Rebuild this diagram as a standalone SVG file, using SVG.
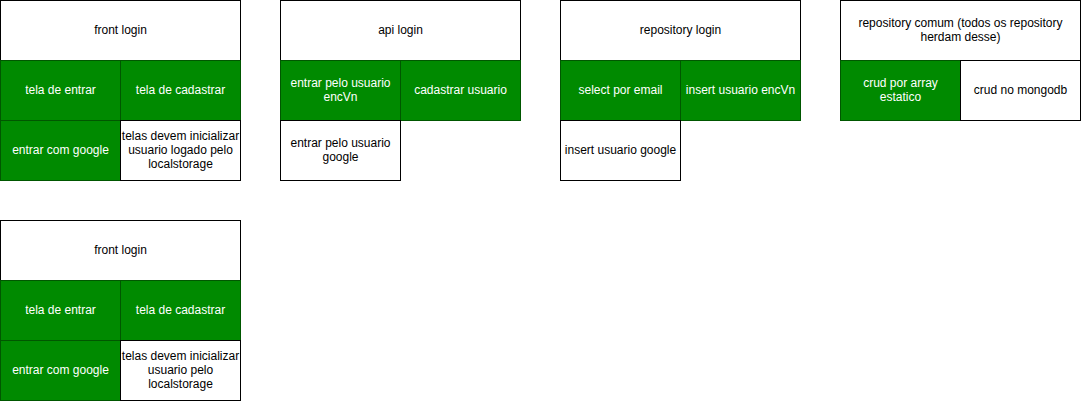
<svg xmlns="http://www.w3.org/2000/svg" width="1082" height="401" viewBox="0 0 1082 401">
<style>
.w{fill:#ffffff;stroke:#000000;stroke-width:1}
.g{fill:#008a00;stroke:#005700;stroke-width:1}
text{font-family:"Liberation Sans",Arial,Helvetica,sans-serif;font-size:12px;text-anchor:middle}
.tw{fill:#ffffff}
.tb{fill:#000000}
</style>
<rect width="1082" height="401" fill="#ffffff"/>
<g id="front-login">
<rect class="w" x="0.5" y="0.5" width="240" height="60"/>
<text class="tb" x="120.5" y="33.5">front login</text>
</g>
<g id="tela-entrar">
<rect class="g" x="0.5" y="60.5" width="120" height="60"/>
<text class="tw" x="60.5" y="93.5">tela de entrar</text>
</g>
<g id="tela-cadastrar">
<rect class="g" x="120.5" y="60.5" width="120" height="60"/>
<text class="tw" x="180.5" y="93.5">tela de cadastrar</text>
</g>
<g id="entrar-google">
<rect class="g" x="0.5" y="120.5" width="120" height="60"/>
<text class="tw" x="60.5" y="153.5">entrar com google</text>
</g>
<g id="telas-inicializar">
<rect class="w" x="120.5" y="120.5" width="120" height="60"/>
<text class="tb" x="180.5" y="139.5">telas devem inicializar</text>
<text class="tb" x="180.5" y="153.5">usuario logado pelo</text>
<text class="tb" x="180.5" y="167.5">localstorage</text>
</g>
<g id="api-login">
<rect class="w" x="280.5" y="0.5" width="240" height="60"/>
<text class="tb" x="400.5" y="33.5">api login</text>
</g>
<g id="api-encvn">
<rect class="g" x="280.5" y="60.5" width="120" height="60"/>
<text class="tw" x="340.5" y="86.5">entrar pelo usuario</text>
<text class="tw" x="340.5" y="100.5">encVn</text>
</g>
<g id="api-cadastrar">
<rect class="g" x="400.5" y="60.5" width="120" height="60"/>
<text class="tw" x="460.5" y="93.5">cadastrar usuario</text>
</g>
<g id="api-google">
<rect class="w" x="280.5" y="120.5" width="120" height="60"/>
<text class="tb" x="340.5" y="146.5">entrar pelo usuario</text>
<text class="tb" x="340.5" y="160.5">google</text>
</g>
<g id="repo-login">
<rect class="w" x="560.5" y="0.5" width="240" height="60"/>
<text class="tb" x="680.5" y="33.5">repository login</text>
</g>
<g id="repo-select">
<rect class="g" x="560.5" y="60.5" width="120" height="60"/>
<text class="tw" x="620.5" y="93.5">select por email</text>
</g>
<g id="repo-insert-encvn">
<rect class="g" x="680.5" y="60.5" width="120" height="60"/>
<text class="tw" x="740.5" y="93.5">insert usuario encVn</text>
</g>
<g id="repo-insert-google">
<rect class="w" x="560.5" y="120.5" width="120" height="60"/>
<text class="tb" x="620.5" y="153.5">insert usuario google</text>
</g>
<g id="repo-comum">
<rect class="w" x="840.5" y="0.5" width="240" height="60"/>
<text class="tb" x="960.5" y="26.5">repository comum (todos os repository</text>
<text class="tb" x="960.5" y="40.5">herdam desse)</text>
</g>
<g id="crud-array">
<rect class="g" x="840.5" y="60.5" width="120" height="60"/>
<text class="tw" x="900.5" y="86.5">crud por array</text>
<text class="tw" x="900.5" y="100.5">estatico</text>
</g>
<g id="crud-mongo">
<rect class="w" x="960.5" y="60.5" width="120" height="60"/>
<text class="tb" x="1020.5" y="93.5">crud no mongodb</text>
</g>
<g id="front-login-2">
<rect class="w" x="0.5" y="220.5" width="240" height="60"/>
<text class="tb" x="120.5" y="253.5">front login</text>
</g>
<g id="tela-entrar-2">
<rect class="g" x="0.5" y="280.5" width="120" height="60"/>
<text class="tw" x="60.5" y="313.5">tela de entrar</text>
</g>
<g id="tela-cadastrar-2">
<rect class="g" x="120.5" y="280.5" width="120" height="60"/>
<text class="tw" x="180.5" y="313.5">tela de cadastrar</text>
</g>
<g id="entrar-google-2">
<rect class="g" x="0.5" y="340.5" width="120" height="60"/>
<text class="tw" x="60.5" y="373.5">entrar com google</text>
</g>
<g id="telas-inicializar-2">
<rect class="w" x="120.5" y="340.5" width="120" height="60"/>
<text class="tb" x="180.5" y="359.5">telas devem inicializar</text>
<text class="tb" x="180.5" y="373.5">usuario pelo</text>
<text class="tb" x="180.5" y="387.5">localstorage</text>
</g>
<g id="connectors"></g>
</svg>
